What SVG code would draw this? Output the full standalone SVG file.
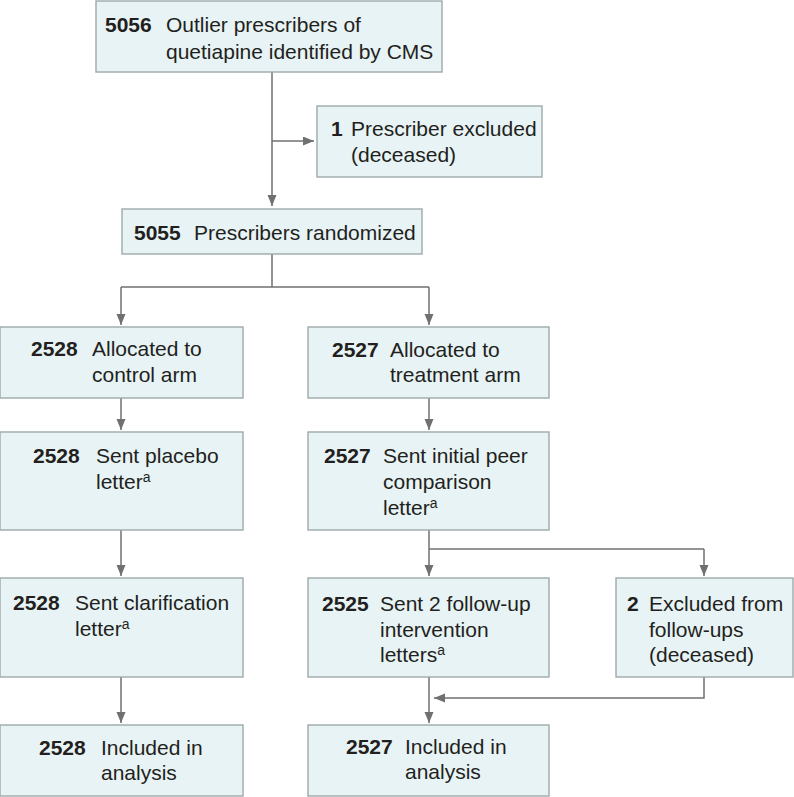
<svg xmlns="http://www.w3.org/2000/svg" width="794" height="797" viewBox="0 0 794 797">
<defs>
<style>
.box{fill:#e7f3f4;stroke:#9ea9aa;stroke-width:1.4}
.t{font-family:"Liberation Sans",Arial,sans-serif;font-size:21px;fill:#231f20}
.n{font-weight:bold}
.sup{font-size:14px}
.c{fill:none;stroke:#6f7072;stroke-width:1.5}
</style>
<marker id="ah" markerUnits="userSpaceOnUse" markerWidth="12" markerHeight="10" refX="11" refY="4.5" orient="auto">
<path d="M0,0 L11,4.5 L0,9 z" fill="#6f7072"/>
</marker>
</defs>
<rect width="794" height="797" fill="#ffffff"/>
<g id="connectors">
<path class="c" d="M272,72 V206" marker-end="url(#ah)"/>
<path class="c" d="M272,141 H314" marker-end="url(#ah)"/>
<path class="c" d="M272,254 V287 M121,287 H429"/>
<path class="c" d="M121,287 V325" marker-end="url(#ah)"/>
<path class="c" d="M429,287 V325" marker-end="url(#ah)"/>
<path class="c" d="M121,398 V430" marker-end="url(#ah)"/>
<path class="c" d="M429,398 V430" marker-end="url(#ah)"/>
<path class="c" d="M121,530 V576" marker-end="url(#ah)"/>
<path class="c" d="M429,530 V576" marker-end="url(#ah)"/>
<path class="c" d="M429,549 H704"/>
<path class="c" d="M704,549 V576" marker-end="url(#ah)"/>
<path class="c" d="M121,677 V723" marker-end="url(#ah)"/>
<path class="c" d="M429,677 V723" marker-end="url(#ah)"/>
<path class="c" d="M704,677 V698 H434" marker-end="url(#ah)"/>
</g>
<g id="n5056">
<rect class="box" x="96" y="1" width="346" height="71"/>
<text class="t"><tspan class="n" x="105" y="32">5056</tspan><tspan x="166" y="32">Outlier prescribers of</tspan><tspan x="166" y="59">quetiapine identified by CMS</tspan></text>
</g>
<g id="nExcl1">
<rect class="box" x="317" y="106" width="225" height="71"/>
<text class="t"><tspan class="n" x="331" y="136">1</tspan><tspan x="351" y="136">Prescriber excluded</tspan><tspan x="351" y="162">(deceased)</tspan></text>
</g>
<g id="nRand">
<rect class="box" x="122" y="209" width="300" height="45"/>
<text class="t"><tspan class="n" x="134" y="240">5055</tspan><tspan x="194" y="240">Prescribers randomized</tspan></text>
</g>
<g id="nCtrlAlloc">
<rect class="box" x="0" y="327" width="243" height="71"/>
<text class="t"><tspan class="n" x="31" y="356">2528</tspan><tspan x="92" y="356">Allocated to</tspan><tspan x="92" y="382">control arm</tspan></text>
</g>
<g id="nTrtAlloc">
<rect class="box" x="308" y="327" width="241" height="71"/>
<text class="t"><tspan class="n" x="332" y="357">2527</tspan><tspan x="390" y="357">Allocated to</tspan><tspan x="390" y="382">treatment arm</tspan></text>
</g>
<g id="nPlacebo">
<rect class="box" x="0" y="432" width="243" height="98"/>
<text class="t"><tspan class="n" x="33" y="463">2528</tspan><tspan x="96" y="463">Sent placebo</tspan><tspan x="96" y="489">letter</tspan><tspan class="sup" dy="-7">a</tspan></text>
</g>
<g id="nInitial">
<rect class="box" x="308" y="432" width="241" height="98"/>
<text class="t"><tspan class="n" x="324" y="463">2527</tspan><tspan x="383" y="463">Sent initial peer</tspan><tspan x="383" y="489">comparison</tspan><tspan x="383" y="515">letter</tspan><tspan class="sup" dy="-7">a</tspan></text>
</g>
<g id="nClarif">
<rect class="box" x="0" y="578" width="243" height="99"/>
<text class="t"><tspan class="n" x="13" y="610">2528</tspan><tspan x="75" y="610">Sent clarification</tspan><tspan x="75" y="636">letter</tspan><tspan class="sup" dy="-7">a</tspan></text>
</g>
<g id="nFollow">
<rect class="box" x="308" y="578" width="241" height="99"/>
<text class="t"><tspan class="n" x="322" y="611">2525</tspan><tspan x="380" y="611">Sent 2 follow-up</tspan><tspan x="380" y="637">intervention</tspan><tspan x="380" y="662">letters</tspan><tspan class="sup" dy="-7">a</tspan></text>
</g>
<g id="nExcl2">
<rect class="box" x="616" y="578" width="177" height="99"/>
<text class="t"><tspan class="n" x="627" y="611">2</tspan><tspan x="649" y="611">Excluded from</tspan><tspan x="649" y="637">follow-ups</tspan><tspan x="649" y="662">(deceased)</tspan></text>
</g>
<g id="nInclCtrl">
<rect class="box" x="0" y="725" width="243" height="71"/>
<text class="t"><tspan class="n" x="39" y="755">2528</tspan><tspan x="101" y="755">Included in</tspan><tspan x="101" y="780">analysis</tspan></text>
</g>
<g id="nInclTrt">
<rect class="box" x="308" y="725" width="241" height="71"/>
<text class="t"><tspan class="n" x="346" y="754">2527</tspan><tspan x="405" y="754">Included in</tspan><tspan x="405" y="779">analysis</tspan></text>
</g>
</svg>
